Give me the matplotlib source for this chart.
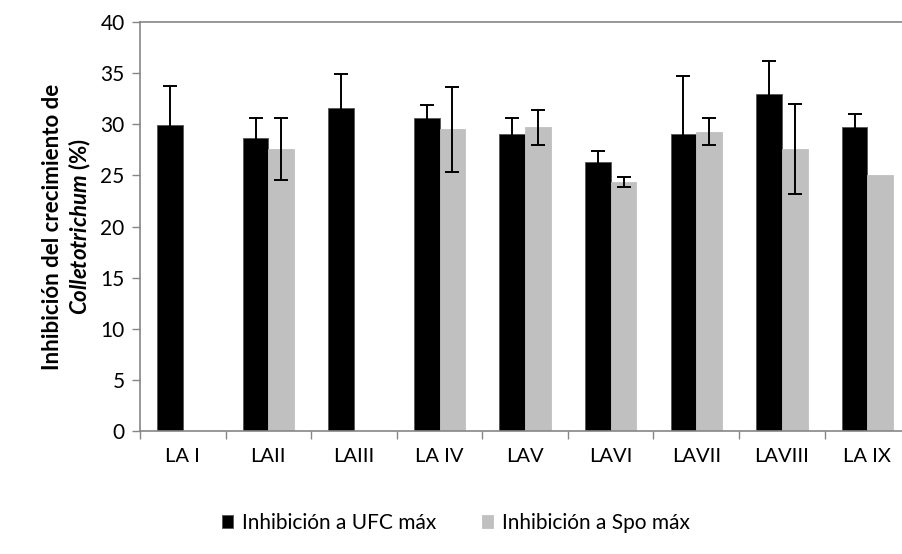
import matplotlib
matplotlib.use("Agg")
import matplotlib.pyplot as plt
import numpy as np

# inhibition of Colletotrichum growth per isolate
isolates = ["LA I", "LAII", "LAIII", "LA IV", "LAV", "LAVI", "LAVII", "LAVIII", "LA IX"]
ufc_max = [29.9, 28.7, 31.6, 30.6, 29.1, 26.3, 29.1, 33.0, 29.7]
ufc_err = [3.9, 1.9, 3.3, 1.3, 1.5, 1.1, 5.6, 3.2, 1.3]
spo_max = [np.nan, 27.6, np.nan, 29.5, 29.7, 24.4, 29.3, 27.6, 25.0]
spo_err = [np.nan, 3.0, np.nan, 4.2, 1.75, 0.5, 1.3, 4.4, np.nan]

plt.rcParams["font.family"] = ["Lato", "DejaVu Sans"]
plt.rcParams["mathtext.fontset"] = "custom"
plt.rcParams["mathtext.it"] = "Lato:italic:bold"
plt.rcParams["mathtext.rm"] = "Lato:bold"

AXIS_GREY = "#868686"

fig = plt.figure(figsize=(9.03, 5.54), dpi=100)
ax = fig.add_axes([0.155, 0.222, 0.853, 0.738])

x = np.arange(len(isolates))
width = 0.30

ax.bar(x - width / 2, ufc_max, width, color="black", edgecolor="#555555",
       linewidth=0.6, label="Inhibición a UFC máx", zorder=2)
ax.bar(x + width / 2, spo_max, width, color="#c0c0c0", edgecolor="#c0c0c0",
       linewidth=0.6, label="Inhibición a Spo máx", zorder=2)

ax.errorbar(x - width / 2, ufc_max, yerr=ufc_err, fmt="none", ecolor="black",
            elinewidth=1.4, capsize=5, capthick=1.4, zorder=3)
ax.errorbar(x + width / 2, spo_max, yerr=spo_err, fmt="none", ecolor="black",
            elinewidth=1.4, capsize=5, capthick=1.4, zorder=3)

ax.set_xlim(-0.5, len(isolates) - 0.5)
ax.set_ylim(0, 40)
ax.set_yticks(np.arange(0, 41, 5))

# labels centred on each group, tick marks on the group boundaries
ax.set_xticks(x)
ax.set_xticklabels(isolates)
ax.set_xticks(np.arange(-0.5, len(isolates) + 0.5, 1), minor=True)
ax.tick_params(axis="x", which="major", length=0, pad=12, labelsize=14.5)
ax.tick_params(axis="x", which="minor", length=6, width=1, color=AXIS_GREY)
ax.tick_params(axis="y", length=6, width=1, color=AXIS_GREY, pad=5, labelsize=15)

for side in ["left", "bottom", "top"]:
    ax.spines[side].set_color(AXIS_GREY)
    ax.spines[side].set_linewidth(1.2)
ax.spines["right"].set_visible(False)

ax.set_ylabel("Inhibición del crecimiento de\n$\\mathit{Colletotrichum}$ (%)",
              fontsize=16, fontweight="bold", labelpad=5, linespacing=1.2)

ax.legend(loc="upper center", bbox_to_anchor=(0.41, -0.155), ncol=2,
          frameon=False, fontsize=15, handlelength=0.55, handleheight=0.55,
          columnspacing=2.2, handletextpad=0.4)

fig.savefig("out.png", dpi=100)
